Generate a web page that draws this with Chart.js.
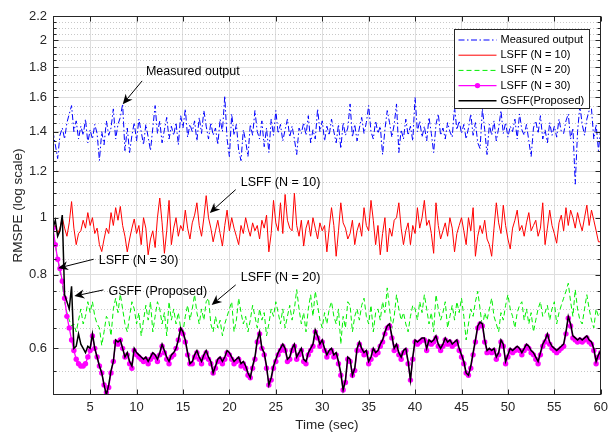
<!DOCTYPE html>
<html><head><meta charset="utf-8">
<script src="https://cdn.jsdelivr.net/npm/chart.js@4.4.0/dist/chart.umd.min.js"></script>
<style>html,body{margin:0;padding:0;background:#fff;}#wrap{width:613px;height:434px;}</style>
</head><body><div id="wrap"><canvas id="c" width="613" height="434"></canvas></div>
<script>
// ---------- DATA ----------
const tStart = 1, tStep = 0.25, tEnd = 60;
const timeSec = [];
for (let i = 0; tStart + i * tStep <= tEnd + 1e-9; i++) timeSec.push(tStart + i * tStep);

const xTicks = [5,10,15,20,25,30,35,40,45,50,55,60];
const xTickLabels = ['5','10','15','20','25','30','35','40','45','50','55','60'];
const yTicks = [0.6,0.8,1,1.2,1.4,1.6,1.8,2,2.2];
const yTickLabels = ['0.6','0.8','1','1.2','1.4','1.6','1.8','2','2.2'];
const yMinorTicks = [0.55,0.65,0.7,0.75,0.85,0.9,0.95,1.05,1.1,1.15,1.25,1.3,1.35,1.45,1.5,1.55,1.65,1.7,1.75,1.85,1.9,1.95,2.05,2.1,2.15];

const measuredOutput = [
1.40,1.33,1.26,1.38, 1.42,1.36,1.45,1.50, 1.55,1.40,1.46,1.36, 1.43,1.38,1.47,1.34,
1.41,1.36,1.44,1.39, 1.25,1.40,1.33,1.46, 1.38,1.42,1.53,1.36, 1.44,1.48,1.56,1.30,
1.42,1.29,1.38,1.45, 1.35,1.47,1.40,1.33, 1.44,1.37,1.30,1.42, 1.55,1.39,1.46,1.34,
1.41,1.48,1.36,1.43, 1.38,1.45,1.33,1.49, 1.42,1.53,1.37,1.44, 1.40,1.46,1.35,1.48,
1.39,1.52,1.43,1.36, 1.45,1.38,1.42,1.33, 1.47,1.40,1.61,1.36, 1.27,1.50,1.38,1.44,
1.30,1.25,1.41,1.35, 1.27,1.44,1.38,1.52, 1.40,1.36,1.46,1.32, 1.42,1.29,1.47,1.38,
1.52,1.39,1.44,1.35, 1.41,1.47,1.37,1.43, 1.36,1.28,1.42,1.39, 1.45,1.38,1.49,1.34,
1.41,1.36,1.53,1.40, 1.46,1.35,1.43,1.38, 1.47,1.40,1.34,1.44, 1.31,1.45,1.38,1.42,
1.56,1.37,1.44,1.35, 1.42,1.48,1.39,1.45, 1.55,1.40,1.36,1.46, 1.39,1.43,1.28,1.41,
1.52,1.45,1.37,1.44, 1.56,1.29,1.41,1.36, 1.47,1.38,1.43,1.35, 1.60,1.40,1.46,1.37,
1.43,1.35,1.48,1.39, 1.29,1.44,1.50,1.38, 1.42,1.36,1.45,1.40, 1.37,1.54,1.41,1.46,
1.39,1.44,1.36,1.42, 1.50,1.38,1.45,1.34, 1.31,1.53,1.41,1.28, 1.44,1.38,1.46,1.35,
1.42,1.52,1.39,1.45, 1.37,1.43,1.40,1.47, 1.36,1.50,1.41,1.38, 1.44,1.35,1.27,1.42,
1.46,1.39,1.49,1.36, 1.41,1.34,1.45,1.38, 1.43,1.37,1.47,1.40, 1.39,1.46,1.50,1.36,
1.42,1.14,1.40,1.55, 1.44,1.38,1.47,1.52, 1.53,1.36,1.44,1.30, 1.42];

const lsffN10 = [
0.95,0.97,0.94,0.96, 1.00,0.96,0.93,0.98, 1.065,0.96,0.90,0.94, 0.95,0.99,0.96,1.02,
0.97,1.00,0.94,0.96, 0.90,0.876,0.92,0.96, 0.94,1.02,0.97,1.04, 0.99,1.045,0.97,0.93,
0.875,0.92,0.96,0.995, 0.94,0.97,0.90,1.00, 0.96,0.865,0.92,0.95, 0.89,1.00,1.08,0.98,
0.87,0.95,1.07,0.90, 0.96,1.00,0.93,0.97, 0.95,1.03,0.96,0.92, 0.98,1.01,1.06,0.97,
0.93,1.00,1.09,1.00, 0.96,0.91,0.95,0.99, 0.94,0.895,0.97,1.03, 0.95,1.00,0.96,0.93,
0.90,0.97,0.94,1.00, 0.96,0.93,0.98,0.95, 0.97,0.92,0.99,0.96, 1.01,0.875,0.94,1.07,
0.98,0.95,1.06,0.94, 1.095,0.99,0.96,0.95, 1.10,0.97,0.93,0.99, 0.895,0.96,0.99,0.93,
1.00,0.96,0.92,0.98, 0.95,0.97,0.875,0.96, 1.04,0.97,0.86,0.95, 1.06,0.98,0.96,0.92,
0.94,0.99,0.90,0.95, 0.98,0.93,1.04,0.97, 0.95,1.07,0.99,0.90, 0.97,0.865,0.94,1.00,
0.875,0.96,0.93,0.99, 1.00,1.06,0.96,0.90, 0.95,0.98,0.90,0.97, 0.94,1.04,0.96,1.00,
1.07,0.97,0.99,0.94, 0.87,1.06,0.97,0.92, 0.95,0.98,0.93,1.00, 0.96,0.875,0.94,0.97,
1.00,0.95,0.90,1.00, 0.95,1.04,0.86,0.93, 0.97,0.94,0.99,0.92, 0.90,0.86,0.96,1.06,
0.98,0.94,1.05,0.97, 0.92,0.885,0.96,0.99, 1.03,0.95,0.97,0.93, 0.98,1.02,0.95,0.97,
0.99,0.93,0.96,1.06, 0.90,0.96,1.03,0.97, 0.94,0.905,0.98,1.01, 0.95,1.04,0.97,1.03,
1.00,0.96,1.02,0.98, 0.95,1.00,1.05,0.97, 1.03,0.99,0.95,0.91, 0.91];

const lsffN20 = [
0.95,0.90,0.85,0.81, 0.77,0.72,0.69,0.67, 0.655,0.66,0.64,0.67, 0.70,0.66,0.68,0.72,
0.69,0.72,0.68,0.66, 0.65,0.607,0.64,0.68, 0.67,0.63,0.70,0.73, 0.69,0.742,0.70,0.66,
0.64,0.68,0.72,0.70, 0.66,0.69,0.63,0.67, 0.71,0.67,0.72,0.64, 0.68,0.72,0.70,0.66,
0.69,0.63,0.72,0.67, 0.70,0.66,0.69,0.65, 0.64,0.68,0.71,0.67, 0.70,0.74,0.69,0.66,
0.70,0.67,0.72,0.73, 0.66,0.64,0.68,0.65, 0.67,0.63,0.66,0.68, 0.70,0.72,0.64,0.67,
0.73,0.69,0.66,0.68, 0.64,0.67,0.71,0.68, 0.65,0.70,0.67,0.69, 0.63,0.66,0.70,0.68,
0.72,0.69,0.66,0.70, 0.65,0.68,0.71,0.67, 0.70,0.755,0.70,0.66, 0.69,0.64,0.70,0.74,
0.68,0.75,0.71,0.67, 0.65,0.69,0.66,0.70, 0.72,0.68,0.66,0.70, 0.61,0.68,0.65,0.72,
0.71,0.64,0.68,0.70, 0.67,0.71,0.73,0.68, 0.66,0.71,0.64,0.69, 0.70,0.67,0.72,0.69,
0.76,0.70,0.65,0.68, 0.74,0.70,0.67,0.69, 0.66,0.64,0.68,0.71, 0.70,0.67,0.72,0.69,
0.74,0.70,0.66,0.69, 0.64,0.74,0.70,0.67, 0.69,0.72,0.65,0.68, 0.71,0.67,0.72,0.69,
0.73,0.68,0.62,0.66, 0.70,0.68,0.72,0.75, 0.70,0.65,0.69,0.67, 0.70,0.73,0.68,0.66,
0.64,0.69,0.67,0.71, 0.74,0.70,0.68,0.65, 0.69,0.71,0.72,0.67, 0.70,0.66,0.69,0.64,
0.67,0.70,0.72,0.68, 0.69,0.71,0.67,0.70, 0.72,0.66,0.69,0.71, 0.73,0.75,0.774,0.72,
0.68,0.755,0.70,0.67, 0.66,0.70,0.74,0.70, 0.67,0.65,0.70,0.68, 0.69];

const lsffN30 = [
0.96,0.90,0.85,0.82, 0.78,0.73,0.68,0.65, 0.62,0.595,0.575,0.565, 0.56,0.56,0.565,0.58,
0.595,0.63,0.60,0.58, 0.56,0.545,0.52,0.505, 0.515,0.545,0.57,0.615, 0.61,0.62,0.60,0.58,
0.585,0.565,0.555,0.595, 0.585,0.58,0.575,0.57, 0.575,0.565,0.575,0.585, 0.58,0.57,0.585,0.605,
0.59,0.575,0.565,0.58, 0.585,0.60,0.62,0.645, 0.635,0.615,0.585,0.565, 0.565,0.58,0.59,0.575,
0.565,0.58,0.59,0.575, 0.565,0.545,0.555,0.57, 0.575,0.565,0.575,0.59, 0.585,0.575,0.565,0.57,
0.575,0.56,0.565,0.555, 0.54,0.535,0.555,0.575, 0.615,0.635,0.60,0.585, 0.555,0.52,0.53,0.555,
0.57,0.585,0.595,0.605, 0.595,0.57,0.575,0.595, 0.605,0.575,0.585,0.595, 0.57,0.565,0.585,0.595,
0.605,0.64,0.625,0.605, 0.615,0.595,0.58,0.59, 0.595,0.58,0.585,0.565, 0.54,0.51,0.525,0.575,
0.57,0.54,0.55,0.595, 0.61,0.595,0.585,0.59, 0.565,0.575,0.595,0.585, 0.59,0.605,0.615,0.635,
0.65,0.655,0.625,0.595, 0.605,0.585,0.575,0.59, 0.595,0.565,0.53,0.575, 0.615,0.61,0.615,0.62,
0.62,0.595,0.615,0.61, 0.615,0.625,0.605,0.595, 0.605,0.62,0.61,0.615, 0.605,0.61,0.615,0.595,
0.58,0.565,0.545,0.54, 0.555,0.585,0.615,0.65, 0.66,0.655,0.615,0.59, 0.595,0.59,0.595,0.575,
0.585,0.615,0.605,0.565, 0.58,0.595,0.59,0.595, 0.60,0.595,0.585,0.595, 0.605,0.60,0.59,0.585,
0.575,0.565,0.585,0.605, 0.615,0.63,0.61,0.60, 0.595,0.59,0.595,0.60, 0.605,0.635,0.675,0.655,
0.625,0.62,0.615,0.62, 0.615,0.62,0.625,0.615, 0.61,0.595,0.565,0.58, 0.59];

const gsffProposed = [
0.96,0.99,0.93,0.95, 1.01,0.74,0.72,0.70, 0.765,0.60,0.605,0.635, 0.61,0.60,0.59,0.605,
0.60,0.635,0.60,0.58, 0.56,0.545,0.52,0.50, 0.52,0.55,0.57,0.62, 0.615,0.62,0.60,0.58,
0.59,0.57,0.56,0.60, 0.59,0.585,0.58,0.575, 0.58,0.57,0.58,0.59, 0.585,0.575,0.59,0.61,
0.595,0.58,0.57,0.585, 0.59,0.60,0.62,0.65, 0.64,0.62,0.59,0.565, 0.57,0.585,0.595,0.58,
0.57,0.585,0.595,0.58, 0.57,0.545,0.56,0.575, 0.58,0.57,0.58,0.595, 0.59,0.58,0.57,0.575,
0.58,0.565,0.57,0.56, 0.545,0.535,0.56,0.58, 0.62,0.64,0.60,0.59, 0.56,0.52,0.535,0.56,
0.575,0.59,0.60,0.61, 0.60,0.575,0.58,0.60, 0.61,0.58,0.59,0.60, 0.575,0.57,0.59,0.60,
0.61,0.645,0.63,0.61, 0.62,0.60,0.585,0.595, 0.60,0.585,0.59,0.57, 0.545,0.51,0.53,0.58,
0.575,0.54,0.555,0.60, 0.615,0.60,0.59,0.595, 0.57,0.58,0.60,0.59, 0.595,0.61,0.62,0.64,
0.655,0.66,0.63,0.60, 0.61,0.59,0.58,0.595, 0.60,0.57,0.53,0.58, 0.62,0.615,0.62,0.625,
0.625,0.60,0.62,0.615, 0.62,0.63,0.61,0.60, 0.61,0.625,0.615,0.62, 0.61,0.615,0.62,0.60,
0.585,0.57,0.545,0.54, 0.56,0.59,0.62,0.655, 0.665,0.66,0.62,0.595, 0.60,0.595,0.60,0.58,
0.59,0.62,0.61,0.57, 0.585,0.60,0.595,0.60, 0.605,0.60,0.59,0.60, 0.61,0.605,0.595,0.59,
0.58,0.57,0.59,0.61, 0.62,0.635,0.615,0.605, 0.60,0.595,0.60,0.605, 0.61,0.64,0.68,0.66,
0.63,0.625,0.62,0.625, 0.62,0.625,0.63,0.62, 0.615,0.60,0.57,0.585, 0.595];

const legendLabels = ['Measured output','LSFF (N = 10)','LSFF (N = 20)','LSFF (N = 30)','GSFF(Proposed)'];

// annotation text / arrows in data coordinates
const noteTexts = ['Measured output','LSFF (N = 10)','LSFF (N = 30)','GSFF (Proposed)','LSFF (N = 20)'];
const noteTextX = [11.01, 21.23, 5.93, 6.97, 21.23];
const noteTextY = [1.769, 1.149, 0.846, 0.749, 0.791];
const arrowTailX = [10.6, 20.68, 5.38, 6.43, 20.68];
const arrowTailY = [1.707, 1.116, 0.850, 0.754, 0.769];
const arrowTipX = [8.51, 17.89, 1.55, 3.30, 18.09];
const arrowTipY = [1.558, 1.019, 0.821, 0.736, 0.711];

// ---------- CHART ----------
const FONT = '"Liberation Sans", Arial, Helvetica, sans-serif';
const toXY = arr => timeSec.map((t, i) => ({x: t, y: arr[i]}));

const styles = [
  {color:'#0000ff', dash:[6,2.5,1.5,2.5], width:1, pr:0},
  {color:'#ff0000', dash:[], width:1, pr:0},
  {color:'#00ee00', dash:[5,3], width:1, pr:0},
  {color:'#ff00ff', dash:[], width:1.3, pr:2.7},
  {color:'#000000', dash:[], width:1.5, pr:0}
];
const seriesList = [measuredOutput, lsffN10, lsffN20, lsffN30, gsffProposed];
const orders = [4,2,3,1,0];

const datasets = seriesList.map((s, i) => ({
  label: legendLabels[i],
  data: toXY(s),
  borderColor: styles[i].color,
  backgroundColor: styles[i].color,
  borderWidth: styles[i].width,
  borderDash: styles[i].dash,
  pointRadius: styles[i].pr,
  pointBorderWidth: 0,
  pointBackgroundColor: styles[i].color,
  tension: 0,
  order: orders[i]
}));

function drawArrow(ctx, x0, y0, x1, y1) {
  const ang = Math.atan2(y1 - y0, x1 - x0);
  const L = 10, W = 4.5, N = 7;
  const c = Math.cos(ang), s = Math.sin(ang);
  ctx.beginPath();
  ctx.moveTo(x0, y0);
  ctx.lineTo(x1 - N * c, y1 - N * s);
  ctx.stroke();
  ctx.beginPath();
  ctx.moveTo(x1, y1);
  ctx.lineTo(x1 - L * c - W * s, y1 - L * s + W * c);
  ctx.lineTo(x1 - N * c, y1 - N * s);
  ctx.lineTo(x1 - L * c + W * s, y1 - L * s - W * c);
  ctx.closePath();
  ctx.fill();
}

const decor = {
  id: 'decor',
  beforeDatasetsDraw(chart) {
    const {ctx, chartArea: a, scales: {y}} = chart;
    ctx.save();
    ctx.strokeStyle = '#c8c8c8';
    ctx.lineWidth = 1;
    ctx.setLineDash([1, 2]);
    yMinorTicks.forEach(v => {
      const py = Math.round(y.getPixelForValue(v)) + 0.5;
      ctx.beginPath(); ctx.moveTo(a.left, py); ctx.lineTo(a.right, py); ctx.stroke();
    });
    ctx.restore();
  },
  afterDatasetsDraw(chart) {
    const {ctx, scales: {x, y}} = chart;
    ctx.save();
    ctx.fillStyle = '#000'; ctx.strokeStyle = '#000'; ctx.lineWidth = 1;
    ctx.font = '12.5px ' + FONT;
    ctx.textBaseline = 'middle'; ctx.textAlign = 'left';
    noteTexts.forEach((t, i) => {
      ctx.fillText(t, x.getPixelForValue(noteTextX[i]), y.getPixelForValue(noteTextY[i]));
      drawArrow(ctx, x.getPixelForValue(arrowTailX[i]), y.getPixelForValue(arrowTailY[i]),
                     x.getPixelForValue(arrowTipX[i]), y.getPixelForValue(arrowTipY[i]));
    });
    ctx.restore();
  },
  afterDraw(chart) {
    const {ctx, chartArea: a, scales: {x, y}} = chart;
    ctx.save();
    ctx.strokeStyle = '#262626'; ctx.lineWidth = 1;
    const L = Math.round(a.left) + 0.5, R = Math.round(a.right) - 0.5, T = Math.round(a.top) + 0.5, B = Math.round(a.bottom) - 0.5;
    ctx.strokeRect(L, T, R - L, B - T);
    ctx.beginPath();
    xTicks.forEach(v => {
      const px = Math.round(x.getPixelForValue(v)) + 0.5;
      ctx.moveTo(px, B); ctx.lineTo(px, B - 5);
      ctx.moveTo(px, T); ctx.lineTo(px, T + 5);
    });
    yTicks.forEach(v => {
      const py = Math.round(y.getPixelForValue(v)) + 0.5;
      ctx.moveTo(L, py); ctx.lineTo(L + 5, py);
      ctx.moveTo(R, py); ctx.lineTo(R - 5, py);
    });
    yMinorTicks.forEach(v => {
      const py = Math.round(y.getPixelForValue(v)) + 0.5;
      ctx.moveTo(L, py); ctx.lineTo(L + 3, py);
      ctx.moveTo(R, py); ctx.lineTo(R - 3, py);
    });
    ctx.stroke();
    // legend
    const bw = 135, bh = 79;
    const bx = Math.round(a.right - 12 - bw) + 0.5, by = Math.round(a.top + 13) + 0.5;
    ctx.fillStyle = '#fff';
    ctx.fillRect(bx, by, bw, bh);
    ctx.strokeStyle = '#262626';
    ctx.strokeRect(bx, by, bw, bh);
    ctx.font = '11px ' + FONT;
    ctx.textBaseline = 'middle'; ctx.textAlign = 'left';
    legendLabels.forEach((lab, i) => {
      const yy = by + 10.5 + i * 15.2;
      const st = styles[i];
      ctx.strokeStyle = st.color; ctx.lineWidth = st.width; ctx.setLineDash(st.dash);
      ctx.beginPath(); ctx.moveTo(bx + 4, yy); ctx.lineTo(bx + 42, yy); ctx.stroke();
      ctx.setLineDash([]);
      if (st.pr > 0) {
        ctx.fillStyle = st.color;
        ctx.beginPath(); ctx.arc(bx + 23, yy, st.pr, 0, Math.PI * 2); ctx.fill();
      }
      ctx.fillStyle = '#000';
      ctx.fillText(lab, bx + 46, yy);
    });
    ctx.restore();
  }
};

new Chart(document.getElementById('c'), {
  type: 'line',
  data: { datasets },
  options: {
    responsive: false,
    animation: false,
    events: [],
    devicePixelRatio: 1,
    layout: { padding: { top: 16, right: 7, left: 0, bottom: 0 } },
    plugins: { legend: { display: false }, tooltip: { enabled: false } },
    scales: {
      x: {
        type: 'linear', min: 1, max: 60,
        afterBuildTicks: s => { s.ticks = xTicks.map(v => ({ value: v })); },
        afterFit: s => { s.height = 39; },
        ticks: {
          autoSkip: false, maxRotation: 0, padding: 5,
          color: '#262626', font: { family: FONT, size: 13 },
          callback: (v, i) => xTickLabels[i]
        },
        grid: { color: '#dedede', lineWidth: 1, drawTicks: false },
        border: { display: false },
        title: { display: true, text: 'Time (sec)', color: '#262626', font: { family: FONT, size: 13.5 }, padding: { top: 0, bottom: 1 } }
      },
      y: {
        type: 'logarithmic', min: 0.5, max: 2.2,
        afterBuildTicks: s => { s.ticks = yTicks.map(v => ({ value: v })); },
        afterFit: s => { s.width = 53; },
        ticks: {
          autoSkip: false, padding: 6,
          color: '#262626', font: { family: FONT, size: 13 },
          callback: (v, i) => yTickLabels[i]
        },
        grid: { color: '#dedede', lineWidth: 1, drawTicks: false },
        border: { display: false },
        title: { display: true, text: 'RMSPE (log scale)', color: '#262626', font: { family: FONT, size: 13.5 }, padding: { top: 10, bottom: 0 } }
      }
    }
  },
  plugins: [decor]
});
</script>
</body></html>
